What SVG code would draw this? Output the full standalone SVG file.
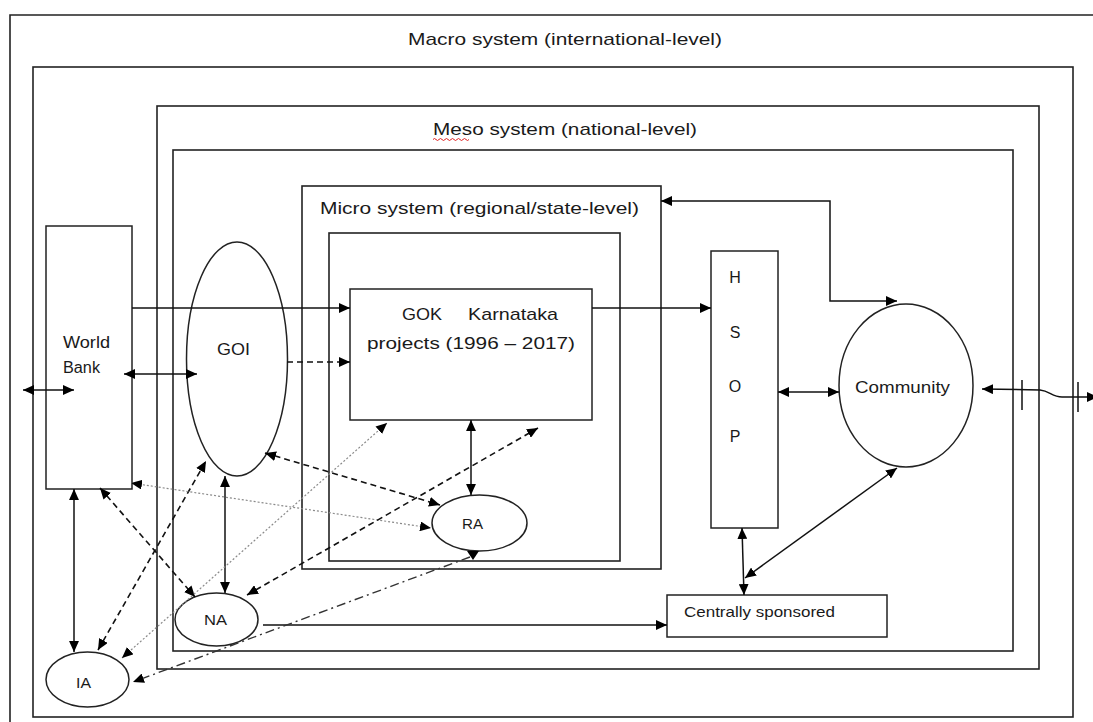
<svg xmlns="http://www.w3.org/2000/svg" width="1093" height="722" viewBox="0 0 1093 722">
  <style>
    .frame { fill: none; stroke: #222; stroke-width: 1.6; }
    .node { fill: #fff; stroke: #222; stroke-width: 1.5; }
    .lbl { font-family: "Liberation Sans", Arial, sans-serif; fill: #1a1a1a; }
    .c { fill: none; stroke: #111; stroke-width: 1.5; }
    .dash { stroke-dasharray: 6 4; stroke-width: 1.6; }
    .dot { stroke: #8a8a8a; stroke-width: 1.2; stroke-dasharray: 2 2; }
    .dashdot { stroke: #333; stroke-dasharray: 9 4 2 4; stroke-width: 1.4; }
  </style>
  <defs>
    <marker id="arr" viewBox="0 0 10 9" refX="10" refY="4.5" markerWidth="11" markerHeight="10" markerUnits="userSpaceOnUse" orient="auto-start-reverse">
      <path d="M0,0 L10,4.5 L0,9 z" fill="#000"/>
    </marker>
  </defs>

  <rect width="1093" height="722" fill="#fff"/>

  <!-- nested system frames -->
  <g id="macro-system">
    <path class="frame" d="M10,722 V15 H1093"/>
    <text class="lbl" x="408" y="45" font-size="17" textLength="314" lengthAdjust="spacingAndGlyphs">Macro system (international-level)</text>
    <rect class="frame" x="33" y="67" width="1040" height="650"/>
  </g>
  <g id="meso-system">
    <rect class="frame" x="157" y="106" width="882" height="563"/>
    <text class="lbl" x="433" y="135" font-size="17" textLength="264" lengthAdjust="spacingAndGlyphs">Meso system (national-level)</text>
    <path d="M433,139.5 q1.5,-2 3,0 t3,0 t3,0 t3,0 t3,0 t3,0 t3,0 t3,0 t3,0 t3,0 t3,0 t3,0" fill="none" stroke="#e02020" stroke-width="1"/>
    <rect class="frame" x="173" y="150" width="840" height="501"/>
  </g>
  <g id="micro-system">
    <rect class="frame" x="302" y="186" width="359" height="383"/>
    <text class="lbl" x="320" y="214" font-size="17" textLength="319" lengthAdjust="spacingAndGlyphs">Micro system (regional/state-level)</text>
    <rect class="frame" x="329" y="233" width="291" height="328"/>
  </g>

  <!-- actors -->
  <g id="world-bank">
    <rect class="node" x="46" y="226" width="86" height="263"/>
    <text class="lbl" x="63" y="348" font-size="16" textLength="47" lengthAdjust="spacingAndGlyphs">World</text>
    <text class="lbl" x="63" y="373" font-size="16" textLength="37" lengthAdjust="spacingAndGlyphs">Bank</text>
  </g>
  <g id="goi">
    <ellipse class="node" cx="237" cy="359" rx="50.5" ry="117"/>
    <text class="lbl" x="217" y="355" font-size="17" textLength="33" lengthAdjust="spacingAndGlyphs">GOI</text>
  </g>
  <g id="gok">
    <rect class="node" x="350" y="289" width="242" height="131"/>
    <text class="lbl" x="402" y="320" font-size="17" textLength="40" lengthAdjust="spacingAndGlyphs">GOK</text>
    <text class="lbl" x="468" y="320" font-size="17" textLength="90" lengthAdjust="spacingAndGlyphs">Karnataka</text>
    <text class="lbl" x="367" y="349" font-size="17" textLength="208" lengthAdjust="spacingAndGlyphs">projects (1996 – 2017)</text>
  </g>
  <g id="hsop">
    <rect class="node" x="711" y="251" width="67" height="277"/>
    <text class="lbl" x="735" y="283" font-size="16" text-anchor="middle">H</text>
    <text class="lbl" x="735" y="338" font-size="16" text-anchor="middle">S</text>
    <text class="lbl" x="735" y="392" font-size="16" text-anchor="middle">O</text>
    <text class="lbl" x="735" y="442" font-size="16" text-anchor="middle">P</text>
  </g>
  <g id="community">
    <ellipse class="node" cx="906" cy="385.5" rx="67" ry="81.5"/>
    <text class="lbl" x="855" y="393" font-size="16" textLength="95" lengthAdjust="spacingAndGlyphs">Community</text>
  </g>
  <g id="ra">
    <ellipse class="node" cx="479.5" cy="523" rx="47.5" ry="28"/>
    <text class="lbl" x="462" y="529" font-size="15" textLength="21" lengthAdjust="spacingAndGlyphs">RA</text>
  </g>
  <g id="na">
    <ellipse class="node" cx="216.5" cy="619.5" rx="41.5" ry="26.5"/>
    <text class="lbl" x="204" y="625" font-size="15" textLength="23" lengthAdjust="spacingAndGlyphs">NA</text>
  </g>
  <g id="ia">
    <ellipse class="node" cx="87.5" cy="679.5" rx="41.5" ry="27.5"/>
    <text class="lbl" x="76" y="688" font-size="15" textLength="15" lengthAdjust="spacingAndGlyphs">IA</text>
  </g>
  <g id="centrally-sponsored">
    <rect class="node" x="667" y="595" width="220" height="42"/>
    <text class="lbl" x="684" y="617" font-size="15" textLength="151" lengthAdjust="spacingAndGlyphs">Centrally sponsored</text>
  </g>

  <!-- connectors -->
  <g id="connectors">
    <path class="c" d="M23,390 H74" marker-start="url(#arr)" marker-end="url(#arr)"/>
    <path class="c" d="M124,374 H197" marker-start="url(#arr)" marker-end="url(#arr)"/>
    <path class="c" d="M132,308 H350" marker-end="url(#arr)"/>
    <path class="c dash" d="M287,362 H350" marker-end="url(#arr)"/>
    <path class="c" d="M592,308 H711" marker-end="url(#arr)"/>
    <path class="c" d="M661,201 H830 V301 H897" marker-start="url(#arr)" marker-end="url(#arr)"/>
    <path class="c" d="M778,392 H839" marker-start="url(#arr)" marker-end="url(#arr)"/>
    <path class="c" d="M982,389 L1040,390 C1050,391 1052,397 1062,397 L1098,397" marker-start="url(#arr)" marker-end="url(#arr)"/>
    <path class="c" d="M1022,380 V410 M1078,382 V412"/>
    <path class="c" d="M471,420 V495" marker-start="url(#arr)" marker-end="url(#arr)"/>
    <path class="c" d="M897,468 L745,578" marker-start="url(#arr)" marker-end="url(#arr)"/>
    <path class="c" d="M742,528 L744,595" marker-start="url(#arr)" marker-end="url(#arr)"/>
    <path class="c" d="M263,625 H667" marker-end="url(#arr)"/>
    <path class="c" d="M225,476 V593" marker-start="url(#arr)" marker-end="url(#arr)"/>
    <path class="c" d="M74,489 V652" marker-start="url(#arr)" marker-end="url(#arr)"/>
    <path class="c dash" d="M100,488 L195,597" marker-start="url(#arr)" marker-end="url(#arr)"/>
    <path class="c dash" d="M98,650 L206,461" marker-start="url(#arr)" marker-end="url(#arr)"/>
    <path class="c dash" d="M265,453 L440,505" marker-start="url(#arr)" marker-end="url(#arr)"/>
    <path class="c dot" d="M131,483 L431,528" marker-start="url(#arr)" marker-end="url(#arr)"/>
    <path class="c dot" d="M122,658 L387,423" marker-start="url(#arr)" marker-end="url(#arr)"/>
    <path class="c dash" d="M247,595 L538,428" marker-start="url(#arr)" marker-end="url(#arr)"/>
    <path class="c dashdot" d="M470,557 L133,682" marker-end="url(#arr)"/>
    <path d="M467,551 L479,551 L473,560 z" fill="#000"/>
  </g>
</svg>
